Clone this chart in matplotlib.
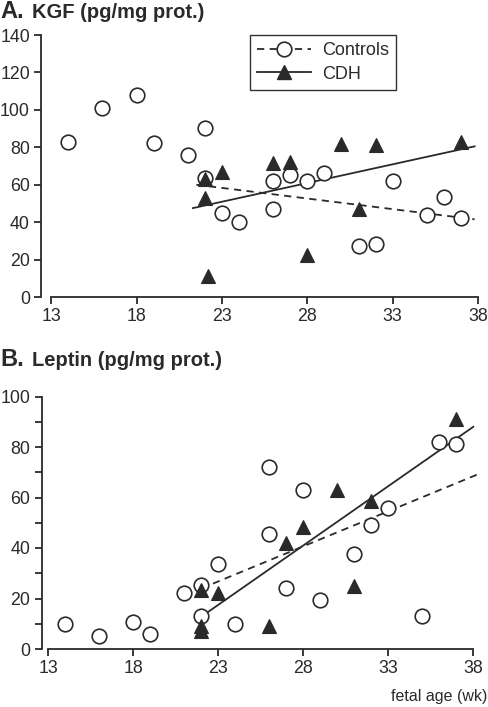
import matplotlib
matplotlib.use("Agg")
import matplotlib.pyplot as plt
from matplotlib.lines import Line2D
import numpy as np

plt.rcParams['font.family'] = ['Liberation Sans', 'DejaVu Sans']

# ---- Panel A: KGF ----
kgf_ctrl_age = [14, 16, 18, 19, 21, 22, 22, 23, 24, 26, 26, 27, 28, 29, 31, 32, 33, 35, 36, 37]
kgf_ctrl_val = [83, 101, 108, 82.5, 76, 90.5, 63.5, 45, 40, 62, 47, 65, 62, 66, 27, 28.5, 62, 44, 53.5, 42]
kgf_cdh_age = [22, 22, 22.2, 23, 26, 27, 28, 30, 31, 32, 37]
kgf_cdh_val = [63, 53, 11, 67, 71.5, 72, 22.5, 82, 47, 81, 83]
kgf_ctrl_fit_x = [21.5, 37.8]
kgf_ctrl_fit_y = [60, 41.5]
kgf_cdh_fit_x = [21.3, 37.8]
kgf_cdh_fit_y = [47.5, 80.5]

# ---- Panel B: Leptin ----
lep_ctrl_age = [14, 16, 18, 19, 21, 22, 22, 23, 24, 26, 26, 27, 28, 29, 31, 32, 33, 35, 36, 37]
lep_ctrl_val = [10, 5, 10.5, 6, 22, 25.5, 13.2, 33.5, 10, 45.5, 72, 24, 63, 19.5, 37.5, 49, 56, 13, 82, 81]
lep_cdh_age = [22, 22, 22, 23, 26, 27, 28, 30, 31, 32, 37]
lep_cdh_val = [23.5, 9, 7, 22, 9, 42, 48.5, 63, 25, 58.5, 91]
lep_ctrl_fit_x = [22.0, 38.2]
lep_ctrl_fit_y = [24, 69]
lep_cdh_fit_x = [22.0, 38.0]
lep_cdh_fit_y = [12.8, 88]

x_ticks = [13, 18, 23, 28, 33, 38]

W, H = 488, 707
fig = plt.figure(figsize=(W / 100, H / 100), dpi=100)

ink = '#2a2a2a'
ms = 10.5
tick_fs = 12.8

def px_axes(left, right, top, bottom):
    return fig.add_axes([left / W, (H - bottom) / H, (right - left) / W, (bottom - top) / H])

def style(ax, ymax, yticks, xlim_left):
    ax.set_xlim(xlim_left, 38)
    ax.set_ylim(0, ymax)
    for s in ['top', 'right']:
        ax.spines[s].set_visible(False)
    for s in ['left', 'bottom']:
        ax.spines[s].set_color(ink)
        ax.spines[s].set_linewidth(1.3)
    ax.spines['bottom'].set_bounds(13, 38)
    ax.spines['left'].set_bounds(0, ymax)
    ax.set_xticks(x_ticks)
    ax.set_yticks(yticks)
    ax.tick_params(axis='both', which='both', direction='out', length=5, width=1.3,
                   color=ink, labelcolor=ink, labelsize=tick_fs, pad=3)
    ax.patch.set_visible(False)

def draw(ax, ca, cv, da, dv, cfx, cfy, dfx, dfy):
    ax.plot(cfx, cfy, ls=(0, (4, 3)), color=ink, lw=1.3, clip_on=False, zorder=2)
    ax.plot(dfx, dfy, ls='-', color=ink, lw=1.3, clip_on=False, zorder=2)
    ax.plot(ca, cv, ls='none', marker='o', ms=ms, mfc='white', mec=ink, mew=1.2,
            clip_on=False, zorder=3)
    ax.plot(da, dv, ls='none', marker='^', ms=ms, mfc=ink, mec=ink, mew=0.8,
            clip_on=False, zorder=4)

# Panel A
axA = px_axes(41, 478, 35, 297)
style(axA, 140, [0, 20, 40, 60, 80, 100, 120, 140], 12.4)
draw(axA, kgf_ctrl_age, kgf_ctrl_val, kgf_cdh_age, kgf_cdh_val,
     kgf_ctrl_fit_x, kgf_ctrl_fit_y, kgf_cdh_fit_x, kgf_cdh_fit_y)

handles = [
    Line2D([], [], ls=(0, (4, 3)), color=ink, lw=1.3, marker='o', ms=ms, mfc='white', mec=ink, mew=1.2),
    Line2D([], [], ls='-', color=ink, lw=1.3, marker='^', ms=ms, mfc=ink, mec=ink),
]
leg = axA.legend(handles, ['Controls', 'CDH'], loc='upper left',
                 bbox_to_anchor=((250 - 41) / 437, 1.0), borderaxespad=0,
                 frameon=True, fancybox=False, edgecolor='black', fontsize=13,
                 handlelength=3.0, handletextpad=0.6, borderpad=0.4, labelspacing=0.35)
leg.get_frame().set_linewidth(1.0)
for t in leg.get_texts():
    t.set_color(ink)

fig.text(0.0, 1 - 18.5 / H, 'A.', fontsize=17, fontweight='bold', color=ink, ha='left', va='baseline')
fig.text(32 / W, 1 - 18.5 / H, 'KGF (pg/mg prot.)', fontsize=14.5, fontweight='bold', color=ink,
         ha='left', va='baseline')

# Panel B
axB = px_axes(41.5, 473.3, 396.5, 649)
style(axB, 100, [0, 20, 40, 60, 80, 100], 12.6)
axB.set_yticks([10, 30, 50, 70, 90], minor=True)
draw(axB, lep_ctrl_age, lep_ctrl_val, lep_cdh_age, lep_cdh_val,
     lep_ctrl_fit_x, lep_ctrl_fit_y, lep_cdh_fit_x, lep_cdh_fit_y)

fig.text(0.0, 1 - 366 / H, 'B.', fontsize=17, fontweight='bold', color=ink, ha='left', va='baseline')
fig.text(32 / W, 1 - 366 / H, 'Leptin (pg/mg prot.)', fontsize=14.5, fontweight='bold', color=ink,
         ha='left', va='baseline')

fig.text(487 / W, 1 - 701 / H, 'fetal age (wk)', fontsize=11.5, color=ink, ha='right', va='baseline')

fig.savefig('out.png', dpi=100)
